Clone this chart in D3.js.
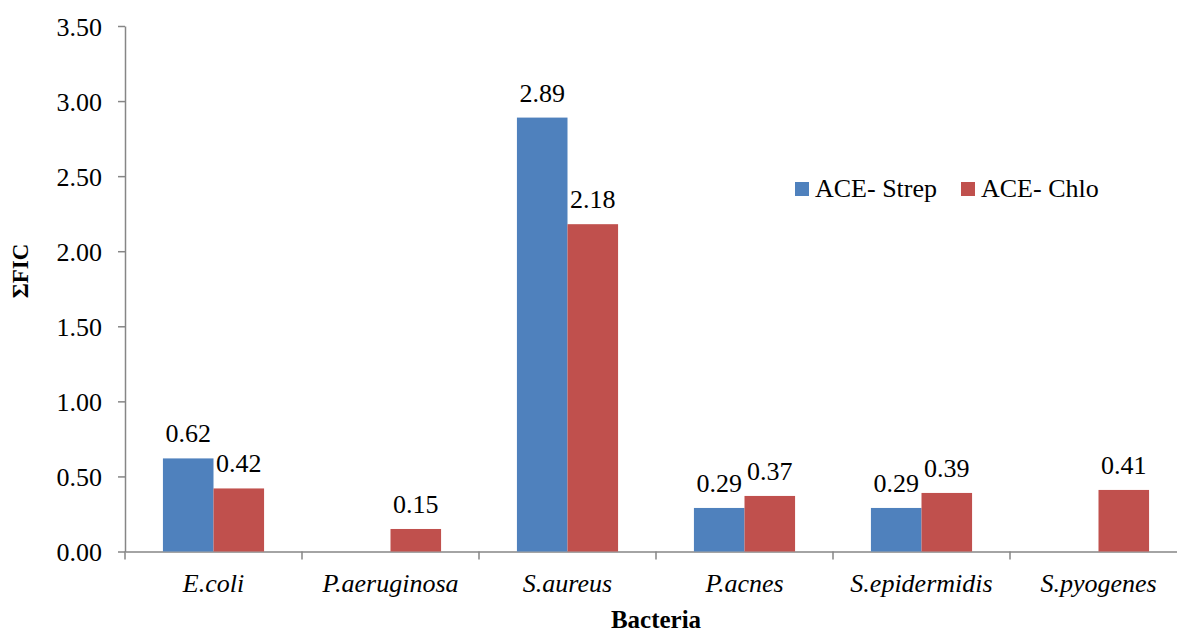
<!DOCTYPE html>
<html>
<head>
<meta charset="utf-8">
<script src="https://cdn.jsdelivr.net/npm/d3@7"></script>
<style>
  html, body { margin: 0; padding: 0; background: #fff; }
  svg { display: block; }
  svg text { font-family: "Liberation Serif", "Times New Roman", "DejaVu Serif", serif !important; fill: #000; }
</style>
</head>
<body>
<svg id="chart" width="1177" height="632"></svg>
<script>
const categories = ["E.coli", "P.aeruginosa", "S.aureus", "P.acnes", "S.epidermidis", "S.pyogenes"];
const seriesNames = ["ACE- Strep", "ACE- Chlo"];
const strepValues = [0.62, null, 2.89, 0.29, 0.29, null];
const chloValues  = [0.42, 0.15, 2.18, 0.37, 0.39, 0.41];
const yTicks = [0, 0.5, 1.0, 1.5, 2.0, 2.5, 3.0, 3.5];
const colors = ["#4F81BD", "#C0504D"];

const svg = d3.select("#chart");
const mLeft = 125, mRight = 1187, mTop = 26, mBottom = 551.5;

const x = d3.scaleBand().domain(categories).range([mLeft, mRight]).paddingInner(0).paddingOuter(0);
const x1 = d3.scaleBand().domain(seriesNames).range([0, x.bandwidth()]).paddingInner(0).paddingOuter(0.75);
const y = d3.scaleLinear().domain([0, 3.5]).range([mBottom, mTop]);

// Y axis
const yAxis = svg.append("g").attr("transform", `translate(${mLeft},0)`)
  .call(d3.axisLeft(y).tickValues(yTicks).tickFormat(d3.format(".2f")).tickSize(7).tickSizeOuter(0));
yAxis.attr("font-family", null).attr("font-size", null);
yAxis.select(".domain").attr("stroke", "#868686").attr("stroke-width", 1.5);
yAxis.selectAll(".tick line").attr("stroke", "#868686").attr("stroke-width", 1.5);
yAxis.selectAll(".tick text").attr("font-size", 26).attr("fill", "#000")
  .attr("x", -23).attr("dy", "0.35em");

// X axis
const xAxis = svg.append("g").attr("transform", `translate(0,${mBottom})`)
  .call(d3.axisBottom(x).tickSize(0).tickFormat(""));
xAxis.select(".domain").attr("stroke", "#868686").attr("stroke-width", 1.5);
xAxis.selectAll(".tick").remove();
const bounds = [mLeft].concat(categories.map(c => x(c) + x.bandwidth()));
svg.append("g").selectAll("line").data(bounds).join("line")
  .attr("x1", d => d).attr("x2", d => d)
  .attr("y1", mBottom).attr("y2", mBottom + 8)
  .attr("stroke", "#868686").attr("stroke-width", 1.5);

// Category labels
svg.append("g").selectAll("text").data(categories).join("text")
  .attr("x", d => x(d) + x.bandwidth() / 2)
  .attr("y", 592)
  .attr("text-anchor", "middle")
  .attr("font-size", 26)
  .attr("font-style", "italic")
  .text(d => d);

// Bars
const seriesData = [strepValues, chloValues];
seriesData.forEach((vals, si) => {
  const g = svg.append("g");
  const data = categories.map((c, i) => ({ c, v: vals[i] })).filter(d => d.v !== null);
  g.selectAll("rect").data(data).join("rect")
    .attr("x", d => x(d.c) + x1(seriesNames[si]))
    .attr("y", d => y(d.v))
    .attr("width", x1.bandwidth())
    .attr("height", d => y(0) - y(d.v))
    .attr("fill", colors[si]);
  g.selectAll("text").data(data).join("text")
    .attr("x", d => x(d.c) + x1(seriesNames[si]) + x1.bandwidth() / 2)
    .attr("y", d => y(d.v) - 16)
    .attr("text-anchor", "middle")
    .attr("font-size", 26)
    .text(d => d.v.toFixed(2));
});

// Legend
const legendX = [795, 961];
seriesNames.forEach((n, i) => {
  svg.append("rect").attr("x", legendX[i]).attr("y", 182).attr("width", 14).attr("height", 14).attr("fill", colors[i]);
  svg.append("text").attr("x", legendX[i] + 20).attr("y", 197).attr("font-size", 26).text(n);
});

// Axis titles
svg.append("text")
  .attr("transform", `translate(28,271) rotate(-90)`)
  .attr("text-anchor", "middle")
  .attr("font-size", 23)
  .attr("font-weight", "bold")
  .text("ΣFIC");
svg.append("text")
  .attr("x", (mLeft + mRight) / 2)
  .attr("y", 628)
  .attr("text-anchor", "middle")
  .attr("font-size", 25)
  .attr("font-weight", "bold")
  .text("Bacteria");
</script>
</body>
</html>
